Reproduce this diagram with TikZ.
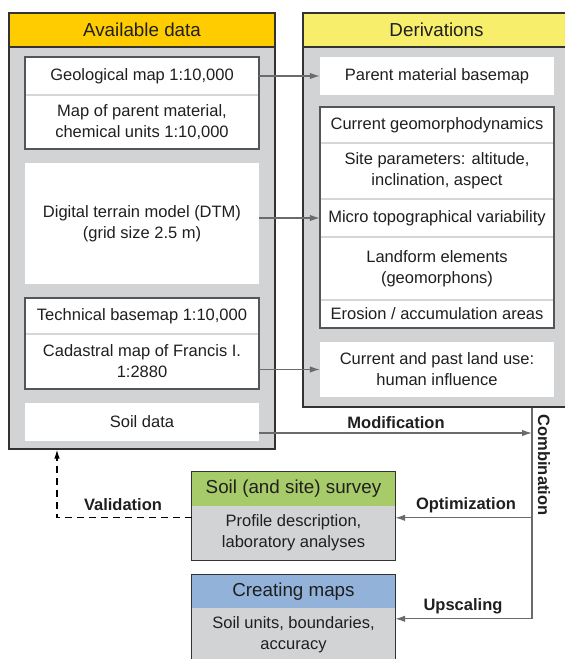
\documentclass[tikz,border=0pt]{standalone}
\usepackage{fontspec}
\setmainfont{Liberation Sans}
\usetikzlibrary{arrows.meta}

\definecolor{gold}{HTML}{FFCC00}
\definecolor{lemon}{HTML}{F7EF6B}
\definecolor{leaf}{HTML}{A8CB6A}
\definecolor{sky}{HTML}{93B2DA}
\definecolor{panelgray}{HTML}{D2D3D5}
\definecolor{edge}{HTML}{333333}
\definecolor{framegray}{HTML}{555555}
\definecolor{divgray}{HTML}{D6D6D6}
\definecolor{arrgray}{HTML}{6B6B6B}
\definecolor{ink}{HTML}{1F1F1F}

\tikzset{
  panel/.style={rectangle, draw=edge, line width=1.2pt, fill=panelgray, inner sep=0pt},
  headbox/.style={rectangle, draw=edge, line width=1.2pt, inner sep=0pt,
    font=\fontsize{18.8}{22}\selectfont, text=ink},
  item/.style={rectangle, fill=white, inner sep=0pt, align=center, text=ink,
    minimum width=234pt},
  bodybox/.style={rectangle, fill=panelgray, inner sep=0pt, align=center, text=ink,
    minimum width=203pt, minimum height=54pt},
  groupframe/.style={draw=framegray, line width=2.2pt},
  divider/.style={draw=divgray, line width=1.6pt},
  flow/.style={draw=arrgray, line width=1.2pt, -{Latex[length=10pt,width=6.5pt]}},
  plainflow/.style={draw=arrgray, line width=1.2pt},
  checkflow/.style={draw=black, line width=1.2pt, dash pattern=on 7pt off 5pt,
    -{Latex[length=9pt,width=5.5pt]}},
  tag/.style={font=\fontsize{16.5}{20}\selectfont\bfseries, text=ink, inner sep=0pt}
}

\begin{document}
\begin{tikzpicture}[x=1pt, y=-1pt, font=\fontsize{16.5}{21}\selectfont]
\useasboundingbox (0,0) rectangle (565,659);
\clip (0,0) rectangle (565,659);

% ---------------- Available data ----------------
\node[panel, minimum width=266pt, minimum height=436pt] (avail) at (142,231) {};
\node[headbox, fill=gold, minimum width=266pt, minimum height=34pt] (availh) at (142,30) {Available data};

\node[item, minimum height=38pt] (geo)  at (142,76)    {Geological map 1:10,000};
\node[item, minimum height=54pt] (pmat) at (142,122)   {Map of parent material,\\chemical units 1:10,000};
\node[item, minimum height=121pt] (dtm) at (142,223.5) {Digital terrain model (DTM)\\(grid size 2.5 m)};
\node[item, minimum height=36pt] (tech) at (142,316)   {Technical basemap 1:10,000};
\node[item, minimum height=55pt] (cad)  at (142,361.5) {Cadastral map of Francis I.\\1:2880};
\node[item, minimum height=38pt] (soil) at (142,422)   {Soil data};

\draw[divider] (geo.south west) -- (geo.south east);
\draw[divider] (tech.south west) -- (tech.south east);
\draw[groupframe] (geo.north west) rectangle (pmat.south east);
\draw[groupframe] (tech.north west) rectangle (cad.south east);

% ---------------- Derivations ----------------
\node[panel, minimum width=267pt, minimum height=394pt] (deriv) at (436.5,210) {};
\node[headbox, fill=lemon, minimum width=267pt, minimum height=34pt] (derivh) at (436.5,30) {Derivations};

\node[item, minimum height=38pt] (pbase) at (437,76)    {Parent material basemap};
\node[item, minimum height=36pt] (cur)   at (437,125)   {Current geomorphodynamics};
\node[item, minimum height=56pt] (site)  at (437,171)   {Site parameters: altitude,\\inclination, aspect};
\node[item, minimum height=38pt] (micro) at (437,218)   {Micro topographical variability};
\node[item, minimum height=63pt] (land)  at (437,268.5) {Landform elements\\(geomorphons)};
\node[item, minimum height=28pt] (eros)  at (437,314)   {Erosion / accumulation areas};
\node[item, minimum height=55pt] (luse)  at (437,369.5) {Current and past land use:\\human influence};

\draw[divider] (cur.south west) -- (cur.south east);
\draw[divider] (site.south west) -- (site.south east);
\draw[divider] (micro.south west) -- (micro.south east);
\draw[divider] (land.south west) -- (land.south east);
\draw[groupframe] (cur.north west) rectangle (eros.south east);

% ---------------- Soil survey ----------------
\node[headbox, draw=none, fill=leaf, minimum width=203pt, minimum height=34pt] (survh) at (293.5,489) {Soil (and site) survey};
\node[bodybox] (survb) at (293.5,533) {Profile description,\\laboratory analyses};
\draw[draw=edge, line width=1.3pt] (survh.north west) rectangle (survb.south east);

% ---------------- Creating maps ----------------
\node[headbox, draw=none, fill=sky, minimum width=203pt, minimum height=33pt] (mapsh) at (293.5,591.5) {Creating maps};
\node[bodybox] (mapsb) at (293.5,635) {Soil units, boundaries,\\accuracy};
\draw[draw=edge, line width=1.3pt] (mapsh.north west) rectangle (mapsb.south east);

% ---------------- Connectors ----------------
\coordinate (cline) at (532,407);
\coordinate (optin) at ([yshift=-12pt]survb.north east);
\coordinate (upin)  at ([yshift=-11pt]mapsb.north east);
\coordinate (modin) at ([yshift=-11pt]soil.east);

\draw[flow] (geo.east) -- (pbase.west);
\draw[flow] (dtm.east |- micro.west) -- (micro.west);
\draw[flow] (cad.east |- luse.west) -- (luse.west);
\draw[flow] (modin) -- (modin -| cline);

\draw[plainflow] (deriv.south -| cline) -- (upin -| cline);
\draw[flow] (optin -| cline) -- (optin);
\draw[flow] (upin -| cline) -- (upin);

\draw[checkflow] (survb.west |- optin) -| ([xshift=-85pt]avail.south);

% ---------------- Labels ----------------
\node[tag] (modlbl) at (396,423) {Modification};
\node[tag, rotate=-90] (comblbl) at (544,465) {Combination};
\node[tag] (optlbl) at (466,505) {Optimization};
\node[tag] (uplbl)  at (463,606) {Upscaling};
\node[tag] (vallbl) at (123,505) {Validation};
\end{tikzpicture}
\end{document}
